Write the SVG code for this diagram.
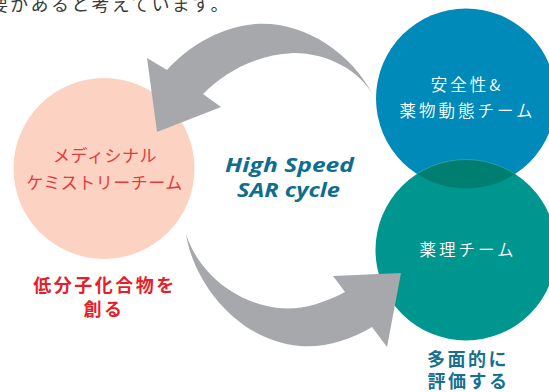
<svg xmlns="http://www.w3.org/2000/svg" width="549" height="392" viewBox="0 0 549 392">
<defs>
<style>
.jp{font-family:"Noto Sans CJK JP","Noto Sans",sans-serif;}
.lt{font-weight:350;}
.rg{font-weight:400;}
.bd{font-weight:700;}
.arrow{fill:#A7A8AC;}
.en{font-family:"Open Sans","Liberation Sans",sans-serif;font-weight:700;font-style:italic;fill:#0F6E8D;font-size:19px;}
</style>
<clipPath id="blueClip"><circle cx="466" cy="98.5" r="90"/></clipPath>
</defs>
<rect width="549" height="392" fill="#FFFFFF"/>
<text class="jp" x="-10" y="11" font-size="18" letter-spacing="2.3" fill="#3A3A3A">要があると考えています。</text>

<g id="node-medicinal">
<circle cx="104" cy="168.5" r="90.5" fill="#FCD3C2"/>
<text class="jp rg" text-anchor="middle" font-size="17" letter-spacing="0.5" fill="#E8383D"><tspan x="105" y="162">メディシナル</tspan><tspan x="104.5" y="189">ケミストリーチーム</tspan></text>
</g>

<g id="node-safety">
<circle cx="466" cy="98.5" r="90" fill="#008ABA"/>
</g>
<g id="node-pharma">
<circle cx="466" cy="250" r="90.5" fill="#009690"/>
<circle cx="466" cy="250" r="90.5" fill="#007F70" clip-path="url(#blueClip)" stroke="#4FA9A6" stroke-width="0.6"/>
<text class="jp lt" x="468" y="256" text-anchor="middle" font-size="16.5" letter-spacing="3" fill="#FFFFFF">薬理チーム</text>
</g>
<g id="node-safety-label">
<text class="jp lt" text-anchor="middle" font-size="16.5" letter-spacing="3" fill="#FFFFFF"><tspan x="467" y="91">安全性&amp;</tspan><tspan x="467.5" y="117">薬物動態チーム</tspan></text>
</g>

<g id="connectors">
<path class="arrow" d="M373,95 C350,50 300,20 255,24 C215,28 185,50 167,70 L147,58 L157,132 L221,107 L203,94 C225,72 255,55 293,53 C330,53 360,72 373,95 Z"/>
<path class="arrow" d="M186,234 C193,280 235,340 300,346 C325,348 350,340 372,327 L387,347 L401,273 L333,276 L345,292 C320,305 300,310 278,308 C235,303 198,272 186,234 Z"/>
</g>

<g id="label-cycle">
<text class="en" x="225" y="172" textLength="129" lengthAdjust="spacingAndGlyphs">High Speed</text>
<text class="en" x="237" y="197" textLength="103" lengthAdjust="spacingAndGlyphs">SAR cycle</text>
</g>

<g id="label-create">
<text class="jp bd" text-anchor="middle" font-size="18" letter-spacing="2.5" fill="#E61E2B"><tspan x="105" y="292">低分子化合物を</tspan><tspan x="104" y="316">創る</tspan></text>
</g>
<g id="label-evaluate">
<text class="jp bd" text-anchor="middle" font-size="18" letter-spacing="2.5" fill="#17708F"><tspan x="468" y="366">多面的に</tspan><tspan x="468.5" y="388">評価する</tspan></text>
</g>
</svg>
